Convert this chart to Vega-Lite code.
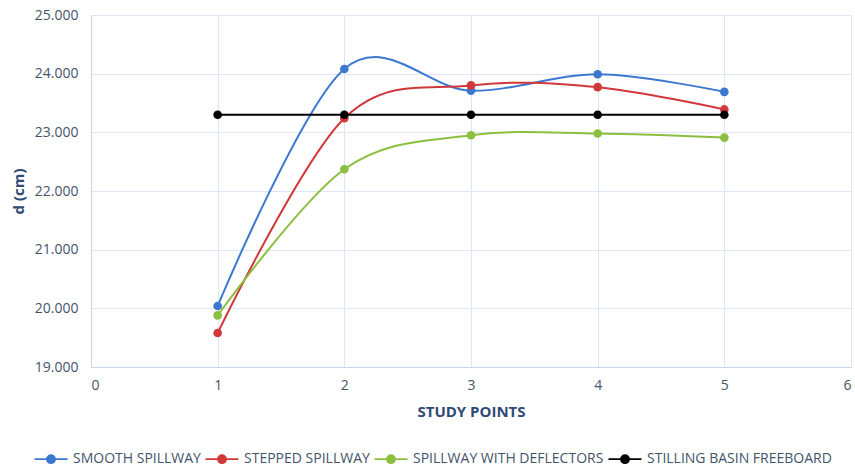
{
  "$schema": "https://vega.github.io/schema/vega-lite/v6.json",
  "width": 760,
  "height": 352,
  "autosize": {"type": "none"},
  "padding": {"left": 91, "top": 15, "right": 4, "bottom": 103},
  "background": "white",
  "config": {
    "view": {"stroke": null},
    "font": "Open Sans",
    "axis": {
      "labelFont": "Open Sans",
      "titleFont": "Open Sans",
      "labelColor": "#44546A",
      "titleColor": "#2F4A75",
      "labelFontSize": 14,
      "titleFontSize": 15,
      "gridColor": "#DCE6F4",
      "gridWidth": 1,
      "domainColor": "#C5D5EC",
      "domainWidth": 1,
      "ticks": false
    }
  },
  "data": {
    "values": [
      {"point": 1, "d": 20.04, "series": "SMOOTH SPILLWAY"},
      {"point": 2, "d": 24.08, "series": "SMOOTH SPILLWAY"},
      {"point": 3, "d": 23.71, "series": "SMOOTH SPILLWAY"},
      {"point": 4, "d": 23.99, "series": "SMOOTH SPILLWAY"},
      {"point": 5, "d": 23.69, "series": "SMOOTH SPILLWAY"},
      {"point": 1, "d": 19.58, "series": "STEPPED SPILLWAY"},
      {"point": 2, "d": 23.24, "series": "STEPPED SPILLWAY"},
      {"point": 3, "d": 23.80, "series": "STEPPED SPILLWAY"},
      {"point": 4, "d": 23.77, "series": "STEPPED SPILLWAY"},
      {"point": 5, "d": 23.39, "series": "STEPPED SPILLWAY"},
      {"point": 1, "d": 19.88, "series": "SPILLWAY WITH DEFLECTORS"},
      {"point": 2, "d": 22.37, "series": "SPILLWAY WITH DEFLECTORS"},
      {"point": 3, "d": 22.95, "series": "SPILLWAY WITH DEFLECTORS"},
      {"point": 4, "d": 22.98, "series": "SPILLWAY WITH DEFLECTORS"},
      {"point": 5, "d": 22.91, "series": "SPILLWAY WITH DEFLECTORS"},
      {"point": 1, "d": 23.30, "series": "STILLING BASIN FREEBOARD"},
      {"point": 2, "d": 23.30, "series": "STILLING BASIN FREEBOARD"},
      {"point": 3, "d": 23.30, "series": "STILLING BASIN FREEBOARD"},
      {"point": 4, "d": 23.30, "series": "STILLING BASIN FREEBOARD"},
      {"point": 5, "d": 23.30, "series": "STILLING BASIN FREEBOARD"}
    ]
  },
  "encoding": {
    "x": {
      "field": "point",
      "type": "quantitative",
      "scale": {"domain": [0, 6], "nice": false},
      "axis": {
        "title": "STUDY POINTS",
        "values": [0, 1, 2, 3, 4, 5, 6],
        "format": "d",
        "labelPadding": 11,
        "titlePadding": 12,
        "titleFontWeight": "bold",
        "grid": true
      }
    },
    "y": {
      "field": "d",
      "type": "quantitative",
      "scale": {"domain": [19, 25], "nice": false, "zero": false},
      "axis": {
        "title": "d (cm)",
        "values": [19, 20, 21, 22, 23, 24, 25],
        "format": ".3f",
        "labelPadding": 13,
        "titlePadding": 8,
        "titleFontWeight": "bold",
        "grid": true
      }
    },
    "color": {
      "field": "series",
      "type": "nominal",
      "sort": null,
      "scale": {
        "domain": ["SMOOTH SPILLWAY", "STEPPED SPILLWAY", "SPILLWAY WITH DEFLECTORS", "STILLING BASIN FREEBOARD"],
        "range": ["#3C78D0", "#D0383A", "#8CBF3F", "#000000"]
      },
      "legend": {
        "title": null,
        "orient": "none",
        "direction": "horizontal",
        "legendX": -47,
        "legendY": 437,
        "padding": 0,
        "labelFont": "Open Sans",
        "labelFontSize": 14,
        "labelColor": "#44546A",
        "labelLimit": 400,
        "symbolType": "M -3 0 L 3 0 M 0.73 0 A 0.73 0.73 0 1 1 -0.73 0 A 0.73 0.73 0 1 1 0.73 0 Z",
        "symbolSize": 121,
        "symbolStrokeWidth": 1.8,
        "symbolOpacity": 1,
        "labelOffset": 15,
        "columnPadding": 0
      }
    }
  },
  "layer": [
    {
      "mark": {"type": "line", "interpolate": "cardinal", "tension": 0, "strokeWidth": 2}
    },
    {
      "mark": {"type": "point", "filled": true, "size": 75, "opacity": 1}
    }
  ]
}
